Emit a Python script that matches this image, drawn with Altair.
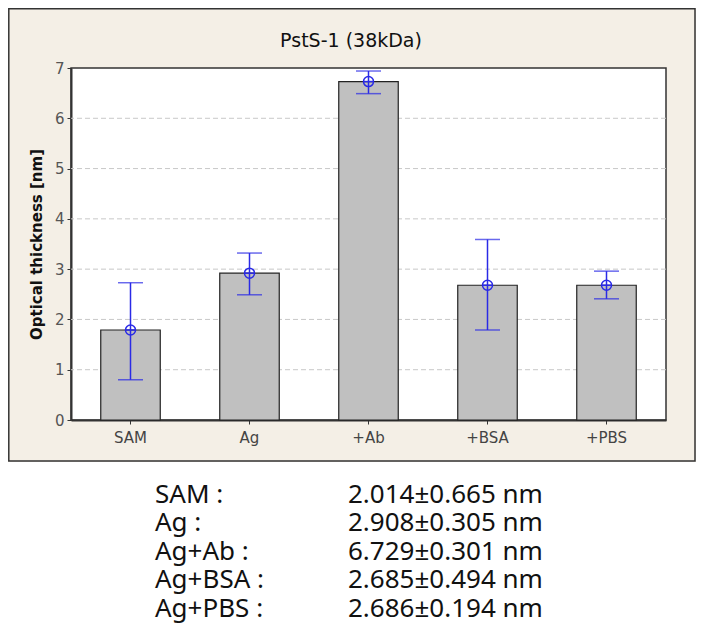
import altair as alt
import pandas as pd

# ---- data ----
categories = ["SAM", "Ag", "+Ab", "+BSA", "+PBS"]
bar_values = [1.79, 2.92, 6.73, 2.68, 2.68]
err_high = [2.73, 3.32, 6.94, 3.59, 2.96]
err_low = [0.80, 2.49, 6.49, 1.79, 2.41]
y_ticks = [0, 1, 2, 3, 4, 5, 6, 7]
grid_values = [1, 2, 3, 4, 5, 6]

summary_names = ["SAM :", "Ag :", "Ag+Ab :", "Ag+BSA :", "Ag+PBS :"]
summary_values = ["2.014±0.665 nm", "2.908±0.305 nm", "6.729±0.301 nm",
                  "2.685±0.494 nm", "2.686±0.194 nm"]

chart_title = "PstS-1 (38kDa)"
y_title = "Optical thickness [nm]"

# ---- layout / style ----
W, H = 595, 352
PAD = {"left": 63, "top": 60, "right": 30, "bottom": 210}
BLUE = "#2a2ae6"
BEIGE = "#f4efe6"
DARK = "#333333"

df = pd.DataFrame({"cat": categories, "val": bar_values, "hi": err_high, "lo": err_low})
grid_df = pd.DataFrame({"g": grid_values})
one = pd.DataFrame({"a": [0]})

y_scale = alt.Scale(domain=[0, 7], nice=False)
y_axis = alt.Axis(title=y_title, values=y_ticks, grid=False,
                  titleFont="DejaVu Sans", titleFontSize=15, titleFontWeight="bold",
                  titleColor="#111", titlePadding=10,
                  labelFont="DejaVu Sans", labelFontSize=15, labelColor="#555",
                  labelPadding=3, tickSize=4, tickColor=DARK,
                  domainColor=DARK, domainWidth=2)
x_enc = alt.X("cat:N", sort=categories,
              scale=alt.Scale(paddingInner=0.5, paddingOuter=0.25),
              axis=alt.Axis(title=None, labelAngle=0, labelFont="DejaVu Sans",
                            labelFontSize=15, labelColor="#444", labelPadding=6,
                            tickSize=4, tickColor=DARK, domainColor=DARK,
                            domainWidth=2))


def Y(field):
    return alt.Y(field, scale=y_scale, axis=y_axis)


base = alt.Chart(df)

bottom_white = alt.Chart(one).mark_rect(fill="white").encode(
    x=alt.value(-PAD["left"]), x2=alt.value(W + PAD["right"]),
    y=alt.value(394), y2=alt.value(H + PAD["bottom"]))

panel_border = alt.Chart(one).mark_rect(fillOpacity=0, stroke=DARK, strokeWidth=1.5).encode(
    x=alt.value(-62.2), x2=alt.value(W + PAD["right"] - 1),
    y=alt.value(-59.2), y2=alt.value(393))

grid = alt.Chart(grid_df).mark_rule(color="#c8c8c8", strokeDash=[5, 3], strokeWidth=1).encode(
    y=Y("g:Q"))

bars = base.mark_bar(fill="#c0c0c0", stroke="#222222", strokeWidth=1.2).encode(
    x=x_enc, y=Y("val:Q"))

err = base.mark_rule(color=BLUE, strokeWidth=1.5).encode(
    x=x_enc, y=Y("lo:Q"), y2="hi:Q")
cap_hi = base.mark_tick(color=BLUE, size=25, thickness=1.5).encode(x=x_enc, y=Y("hi:Q"))
cap_lo = base.mark_tick(color=BLUE, size=25, thickness=1.5).encode(x=x_enc, y=Y("lo:Q"))

circ = base.mark_point(shape="circle", filled=False, size=100, color=BLUE,
                       strokeWidth=1.5, opacity=1).encode(x=x_enc, y=Y("val:Q"))
cross = base.mark_point(shape="M-1,0L1,0", filled=False, size=100, color=BLUE,
                        strokeWidth=1.5, opacity=1).encode(x=x_enc, y=Y("val:Q"))

title = alt.Chart(one).mark_text(text=chart_title, font="DejaVu Sans", fontSize=19,
                                 color="#111", align="center", baseline="alphabetic").encode(
    x=alt.value(280), y=alt.value(-21))

# summary block: one multi-line text per column
names = alt.Chart(one).mark_text(
    text=summary_names, lineHeight=28.5,
    font="Noto Sans", fontSize=26, color="#111", align="left", baseline="alphabetic").encode(
    x=alt.value(84), y=alt.value(434.6))

vals = alt.Chart(one).mark_text(
    text=summary_values, lineHeight=28.5,
    font="Noto Sans", fontSize=26, color="#111", align="left", baseline="alphabetic").encode(
    x=alt.value(277), y=alt.value(434.6))

chart = alt.layer(
    bottom_white, panel_border, grid, bars, err, cap_hi, cap_lo, circ, cross,
    title, names, vals
).properties(
    width=W, height=H,
    autosize=alt.AutoSizeParams(type="none"),
    padding=PAD,
    background=BEIGE,
).configure_view(fill="white", stroke=DARK, strokeWidth=1.5)

chart.save("out.html", embed_options={"renderer": "svg", "actions": False})
